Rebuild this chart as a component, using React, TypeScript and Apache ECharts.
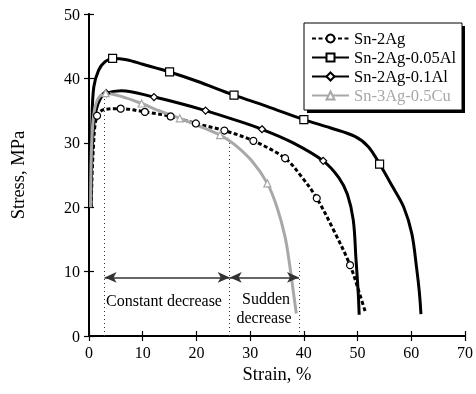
import React, { useEffect, useRef } from "react";
import * as echarts from "echarts";

const SERIES_NAMES = ["Sn-2Ag", "Sn-2Ag-0.05Al", "Sn-2Ag-0.1Al", "Sn-3Ag-0.5Cu"];

const X_MIN = 0, X_MAX = 70, X_STEP = 10;
const Y_MIN = 0, Y_MAX = 50, Y_STEP = 10;

// Sn-2Ag (dashed, open circles)
const sn2agCurve = [[0.4, 20], [0.8, 29], [3, 35.2], [39.5, 24.8], [45.5, 16.5], [50.4, 6.5], [51.5, 3.6]];
const sn2agMarkers = [[1.5, 34.2], [5.9, 35.3], [10.4, 34.8], [15.2, 34.1], [19.9, 33.0], [25.2, 31.9], [30.6, 30.3], [36.5, 27.6], [42.4, 21.4], [48.6, 11.0]];

// Sn-2Ag-0.05Al (open squares)
const al005Curve = [[0.35, 20], [0.55, 33.5], [0.9, 38.7], [1.8, 41.3], [3, 42.6], [7, 42.9], [10, 42.2], [20, 39.6], [33, 35.7], [45, 32.3], [49.5, 31.0], [52, 29.4], [56.5, 23.2], [58.6, 20], [60.1, 15.9], [61, 10.5], [61.5, 6.8], [61.8, 3.4]];
const al005Markers = [[4.4, 43.1], [15, 41.0], [27, 37.4], [40, 33.6], [54.1, 26.7]];

// Sn-2Ag-0.1Al (small diamonds)
const al01Curve = [[0.35, 20], [0.7, 31], [1.3, 35], [2.2, 37], [6, 38.1], [17, 36.1], [27, 33.6], [38, 30.0], [46.5, 24.6], [48.1, 22.0], [49.2, 18], [49.7, 12], [50.1, 7], [50.3, 3.3]];
const al01Markers = [[3.2, 37.7], [12.1, 37.1], [21.7, 35.0], [32.2, 32.1], [43.6, 27.2]];

// Sn-3Ag-0.5Cu (grey, open triangles)
const cuCurve = [[0.3, 20], [0.5, 30], [1, 35], [1.8, 37], [6, 37.2], [13, 35.0], [20.5, 32.6], [27, 29.8], [30.3, 27.2], [35, 20], [36.5, 15.4], [37.4, 10.8], [38.1, 6.5], [38.6, 3.5]];
const cuMarkers = [[3.1, 37.7], [9.8, 36.1], [16.9, 33.8], [24.4, 31.2], [33.2, 23.7]];

// Annotation: region boundaries (strain) and their upper ends (stress), arrow level
const boundaryStrain = [2.9, 26.2, 39.1];
const boundaryTop = [37.2, 30.2, 11.5];
const arrowStress = 9.1;

const FONT = "'Liberation Serif', 'Times New Roman', serif";

function buildData(curve: number[][], markers: number[][]) {
  const pts = [
    ...curve.map((p) => ({ value: p, symbol: "none" as any })),
    ...markers.map((p) => ({ value: p })),
  ];
  pts.sort((a, b) => a.value[0] - b.value[0]);
  return pts;
}

export default function App() {
  const ref = useRef<HTMLDivElement>(null);
  useEffect(() => {
    if (!ref.current) return;
    const chart = echarts.init(ref.current, undefined, { renderer: "svg" });
    const axisLine = { show: true, lineStyle: { color: "#000", width: 1.5 } };
    const xCommon = {
      type: "value" as const,
      min: X_MIN,
      max: X_MAX,
      interval: X_STEP,
      splitLine: { show: false },
      axisTick: { inside: true, length: 5, lineStyle: { color: "#000", width: 1.2 } },
      axisLine,
    };
    const yCommon = {
      type: "value" as const,
      min: Y_MIN,
      max: Y_MAX,
      interval: Y_STEP,
      splitLine: { show: false },
      axisTick: { inside: true, length: 5, lineStyle: { color: "#000", width: 1.2 } },
      axisLine,
    };
    const black = "#000";
    const grey = "#a8a8a8";
    const mk = (name: string, curve: number[][], markers: number[][], color: string, symbol: string, size: number, dashed: boolean) => ({
      name,
      type: "line",
      data: buildData(curve, markers),
      smooth: 0.35,
      symbol,
      symbolSize: size,
      showSymbol: true,
      showAllSymbol: true,
      lineStyle: { color, width: 3, type: dashed ? [4, 2.5] : "solid" },
      itemStyle: { color: "#fff", borderColor: color, borderWidth: 1.2 },
      z: 3,
    });

    const dotted = { color: "#333", width: 1, type: [1, 3] as any };
    const arrowLine = { color: "#333", width: 1.5, type: "solid" as any };

    chart.setOption({
      animation: false,
      grid: { left: 87, right: 9, top: 14, bottom: 58 },
      xAxis: [
        {
          ...xCommon,
          position: "bottom",
          name: "Strain, %",
          nameLocation: "middle",
          nameGap: 27,
          nameTextStyle: { fontFamily: FONT, fontSize: 18.5, color: "#000" },
          axisLabel: { fontFamily: FONT, fontSize: 16, color: "#000", margin: 8 },
          axisLine: { show: true, lineStyle: { color: "#000", width: 2 } },
        },
        { ...xCommon, position: "top", axisLabel: { show: false } },
      ],
      yAxis: [
        {
          ...yCommon,
          position: "left",
          name: "Stress, MPa",
          nameLocation: "middle",
          nameGap: 62,
          nameTextStyle: { fontFamily: FONT, fontSize: 18.5, color: "#000" },
          axisLabel: { fontFamily: FONT, fontSize: 16, color: "#000", margin: 9 },
          axisLine: { show: true, lineStyle: { color: "#000", width: 2 } },
        },
        { ...yCommon, position: "right", axisLabel: { show: false } },
      ],
      legend: {
        orient: "vertical",
        left: 306,
        top: 25,
        itemWidth: 37,
        itemHeight: 10,
        itemGap: 2,
        z: 10,
        textStyle: { fontFamily: FONT, fontSize: 16.5, lineHeight: 17, color: "#000" },
        data: [
          { name: SERIES_NAMES[0] },
          { name: SERIES_NAMES[1] },
          { name: SERIES_NAMES[2] },
          { name: SERIES_NAMES[3], textStyle: { color: grey } },
        ],
      },
      graphic: [
        { type: "rect", z: 8, shape: { x: 307, y: 26, width: 158, height: 87 }, style: { fill: "#000" } },
        { type: "rect", z: 9, shape: { x: 304, y: 23, width: 158, height: 87 }, style: { fill: "#fff", stroke: "#000", lineWidth: 1 } },
        { type: "text", z: 10, x: 106, y: 300, style: { text: "Constant decrease", fontFamily: FONT, fontSize: 16, fill: "#000", align: "left", verticalAlign: "middle" } },
        { type: "text", z: 10, x: 266, y: 298, style: { text: "Sudden", fontFamily: FONT, fontSize: 16, fill: "#000", align: "center", verticalAlign: "middle" } },
        { type: "text", z: 10, x: 264, y: 317, style: { text: "decrease", fontFamily: FONT, fontSize: 16, fill: "#000", align: "center", verticalAlign: "middle" } },
      ],
      series: [
        mk(SERIES_NAMES[0], sn2agCurve, sn2agMarkers, black, "circle", 7, true),
        mk(SERIES_NAMES[1], al005Curve, al005Markers, black, "rect", 8, false),
        mk(SERIES_NAMES[2], al01Curve, al01Markers, black, "diamond", 7, false),
        mk(SERIES_NAMES[3], cuCurve, cuMarkers, grey, "triangle", 7, false),
        {
          name: "boundaries",
          type: "line",
          data: [],
          markLine: {
            silent: true,
            symbol: ["none", "none"],
            label: { show: false },
            lineStyle: dotted,
            data: boundaryStrain.map((x, i) => [{ coord: [x, 0] }, { coord: [x, boundaryTop[i]] }]),
          },
        },
        {
          name: "arrows",
          type: "line",
          data: [],
          markLine: {
            silent: true,
            symbol: ["arrow", "arrow"],
            symbolSize: [8, 12],
            label: { show: false },
            lineStyle: arrowLine,
            data: [
              [{ coord: [boundaryStrain[0], arrowStress] }, { coord: [boundaryStrain[1], arrowStress] }],
              [{ coord: [boundaryStrain[1], arrowStress] }, { coord: [boundaryStrain[2], arrowStress] }],
            ],
          },
        },
      ],
    });
    return () => chart.dispose();
  }, []);
  return <div ref={ref} style={{ position: "fixed", left: 0, top: 0, width: 476, height: 394 }} />;
}
